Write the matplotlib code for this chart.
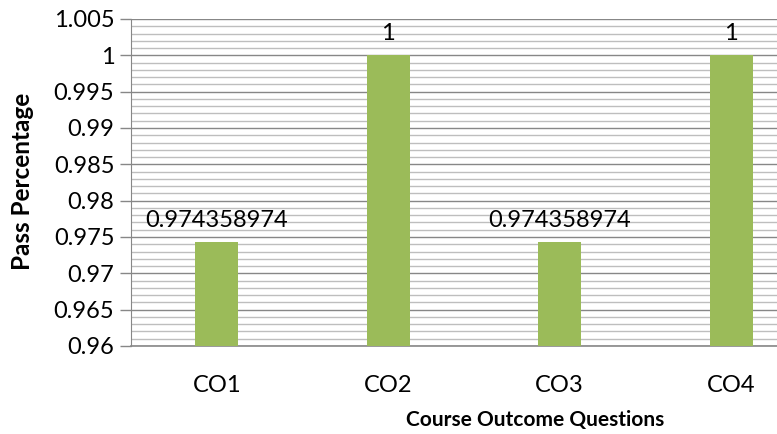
import matplotlib
matplotlib.use('Agg')
import matplotlib.pyplot as plt
from matplotlib.ticker import MultipleLocator

# data
categories = ['CO1', 'CO2', 'CO3', 'CO4']
pass_pct = [0.974358974, 1, 0.974358974, 1]
labels = ['0.974358974', '1', '0.974358974', '1']

plt.rcParams['font.family'] = ['Lato', 'DejaVu Sans']

fig = plt.figure(figsize=(7.77, 4.34), dpi=100)
# plot area runs past the right edge of the picture (cropped)
ax = fig.add_axes([131/777, 88/434, 686/777, 327/434])

x = range(len(categories))
ax.bar(x, pass_pct, width=0.25, color='#9BBB59', zorder=3)
for xi, v, lab in zip(x, pass_pct, labels):
    ax.text(xi, v + 0.0015, lab, ha='center', va='bottom', fontsize=17, zorder=4)

ax.set_xlim(-0.5, 3.5)
ax.set_ylim(0.96, 1.005)
ax.yaxis.set_major_locator(MultipleLocator(0.005))
ax.yaxis.set_minor_locator(MultipleLocator(0.001))

def fmt(v, pos):
    s = '%.3f' % v
    s = s.rstrip('0').rstrip('.')
    return s
ax.yaxis.set_major_formatter(plt.FuncFormatter(fmt))

ax.grid(which='major', axis='y', color='#878787', linewidth=1.0, zorder=0)
ax.grid(which='minor', axis='y', color='#BEBEBE', linewidth=1.0, zorder=0)

ax.set_xticks(list(x))
ax.set_xticklabels(categories)
ax.tick_params(axis='x', length=0, pad=21, labelsize=17)
ax.tick_params(axis='y', which='major', length=8, color='#878787', width=1, labelsize=17, pad=4)
ax.tick_params(axis='y', which='minor', length=0)

for side in ['top', 'right']:
    ax.spines[side].set_visible(False)
ax.spines['left'].set_color('#878787')
ax.spines['bottom'].set_color('#878787')
ax.spines['bottom'].set_linewidth(1.2)

fig.text(23/777, 1 - 181/434, 'Pass Percentage', rotation=90, ha='center', va='center',
         fontsize=17.5, fontweight='bold')
fig.text(535/777, 1 - 420/434, 'Course Outcome Questions', ha='center', va='center',
         fontsize=15, fontweight='bold')

fig.savefig('out.png', dpi=100)
